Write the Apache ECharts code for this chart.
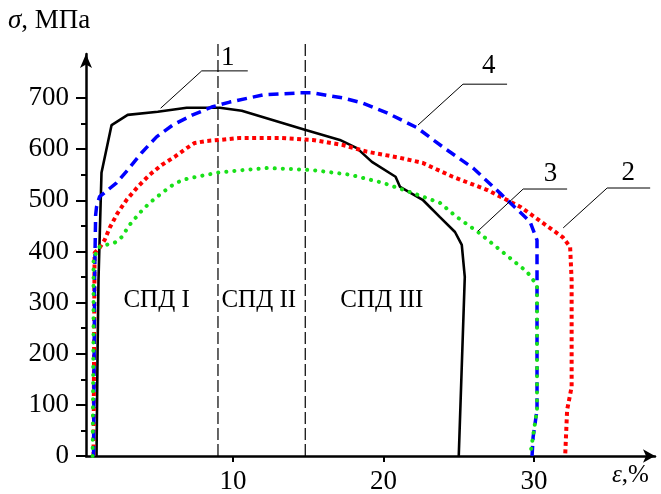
<!DOCTYPE html>
<html>
<head>
<meta charset="utf-8">
<script src="https://cdn.jsdelivr.net/npm/echarts@6/dist/echarts.min.js"></script>
<style>html,body{margin:0;padding:0;background:#fff}#c{width:661px;height:494px}</style>
</head>
<body>
<div id="c"></div>
<script>
// ---- data (strain %, stress MPa) ----
const curve1 = [[0.93,0],[1.0,207],[1.06,344],[1.26,554],[1.93,647],[3.0,667],[5.0,673],[6.92,681],[9.12,681],[10.58,675],[14.77,638],[17.1,618],[18.23,602],[19.23,575],[20.8,546],[21.1,526],[22.6,501],[23.75,467],[24.75,438],[25.2,413],[25.4,350],[25.0,0]];
const curve2 = [[0.73,0],[0.8,397],[1.13,407],[1.46,422],[1.8,446],[2.33,475],[2.93,501],[3.66,526],[4.46,550],[5.26,569],[6.12,585],[6.92,602],[7.45,612],[8.25,616],[9.12,618],[10.45,622],[13.1,622],[15.3,618],[17.3,608],[18.9,595],[21.1,583],[22.6,573],[24.6,546],[26.9,520],[29.1,487],[31.9,428],[32.4,409],[32.5,344],[32.5,135],[32.2,90],[32.07,0]];
const curve3 = [[0.67,0],[0.73,246],[0.73,387],[1.13,409],[1.6,413],[2.13,417],[2.6,428],[3.13,452],[3.79,475],[4.46,495],[5.26,514],[5.99,530],[6.65,540],[7.59,546],[8.98,554],[10.65,559],[12.24,563],[13.97,561],[15.3,559],[17.77,550],[19.96,534],[21.76,516],[23.75,495],[24.88,467],[26.28,438],[27.74,403],[29.54,360],[30.2,334],[30.2,90],[29.74,0]];
const curve4 = [[0.73,0],[0.8,344],[0.87,471],[0.93,487],[1.13,507],[2.26,534],[2.99,559],[3.93,593],[4.92,624],[5.99,647],[7.32,667],[8.65,683],[9.78,692],[11.98,706],[14.44,710],[15.3,710],[17.3,700],[18.63,690],[20.23,671],[22.22,642],[23.95,604],[25.95,563],[27.74,514],[29.74,458],[30.2,422],[30.2,90],[29.94,37],[29.87,0]];
const stageBounds = [9.0, 14.8];
const stageLabels = ['СПД I', 'СПД II', 'СПД III'];
const stageLabelPos = [[4.92,305],[11.71,305],[19.89,305]];
const curveNames = ['1','2','3','4'];
const leader1 = [[5.19,680],[7.92,753],[10.98,753]];
const leader2 = [[31.94,446],[34.86,524],[37.72,524]];
const leader3 = [[26.28,440],[29.28,522],[32.2,522]];
const leader4 = [[22.29,647],[25.28,727],[28.21,727]];
const curveLabelPos = [[9.65,778],[36.26,553],[31.1,552],[27.0,763]];
const xTicks = [10,20,30];
const yTicks = [0,100,200,300,400,500,600,700];
const yMinorTicks = [50,150,250,350,450,550,650];

const FONT = 'Liberation Serif';
const chart = echarts.init(document.getElementById('c'), null, {renderer:'canvas'});

function leaderSeries(d){
  return {type:'line', data:d, symbol:'none', silent:true, clip:false, z:5,
    lineStyle:{color:'#000', width:1}};
}
const vlines = stageBounds.map(x => ({type:'line', data:[[x,0],[x,810]], symbol:'none', clip:false, silent:true, z:1,
  lineStyle:{color:'#000', width:1.2, type:[12,4]}}));

chart.setOption({
  animation:false,
  backgroundColor:'#fff',
  grid:{left:86, right:6, top:54, bottom:38, outerBoundsMode:'none'},
  xAxis:{type:'value', min:0.23, max:38.04,
    axisLine:{show:true, onZero:false, symbol:['none','arrow'], symbolSize:[10,12], lineStyle:{color:'#000', width:2.5}},
    axisTick:{show:true, length:6, customValues:xTicks, lineStyle:{color:'#000', width:2}},
    axisLabel:{customValues:xTicks, color:'#000', fontFamily:FONT, fontSize:27, margin:12},
    splitLine:{show:false}},
  yAxis:[{type:'value', min:0, max:786,
    axisLine:{show:true, onZero:false, symbol:['none','arrow'], symbolSize:[9,14], lineStyle:{color:'#000', width:2.5}},
    axisTick:{show:true, length:10, customValues:yTicks, lineStyle:{color:'#000', width:2}},
    axisLabel:{customValues:yTicks, color:'#000', fontFamily:FONT, fontSize:27, margin:17},
    splitLine:{show:false}},
   {type:'value', min:0, max:786, position:'left',
    axisLine:{show:false},
    axisTick:{show:true, length:5, customValues:yMinorTicks, lineStyle:{color:'#000', width:2}},
    axisLabel:{show:false}, splitLine:{show:false}}],
  series:[
    ...vlines,
    {type:'line', name:'1', data:curve1, symbol:'none', z:3, lineStyle:{color:'#000', width:2.6}},
    {type:'line', name:'2', data:curve2, symbol:'none', z:3, lineStyle:{color:'#ff0000', width:4, type:[4,3.5]}},
    {type:'line', name:'4', data:curve4, symbol:'none', z:3, lineStyle:{color:'#0000ff', width:3.5, type:[10,6]}},
    {type:'line', name:'3', data:curve3, symbol:'none', z:3, lineStyle:{color:'#19e019', width:4, type:[0.1,8], cap:'round'}},
    leaderSeries(leader1), leaderSeries(leader2), leaderSeries(leader3), leaderSeries(leader4),
    {type:'scatter', symbolSize:0, silent:true, z:6, itemStyle:{opacity:1},
      data: curveLabelPos.map((p,i)=>({value:p, name:curveNames[i]})),
      label:{show:true, position:'inside', formatter:'{b}', color:'#000', fontFamily:FONT, fontSize:27}},
    {type:'scatter', symbolSize:0, silent:true, z:6, itemStyle:{opacity:1},
      data: stageLabelPos.map((p,i)=>({value:p, name:stageLabels[i]})),
      label:{show:true, position:'inside', formatter:'{b}', color:'#000', fontFamily:FONT, fontSize:25}}
  ],
  graphic:[
    {type:'text', left:8, top:7, style:{text:'{i|σ}, МПа', fill:'#000', font:'27px "Liberation Serif"',
      rich:{i:{fontStyle:'italic', fontFamily:FONT, fontSize:27}}}},
    {type:'text', left:612, top:463, style:{text:'{i|ε},%', fill:'#000', font:'25px "Liberation Serif"',
      rich:{i:{fontStyle:'italic', fontFamily:FONT, fontSize:25}}}}
  ]
});
</script>
</body>
</html>
